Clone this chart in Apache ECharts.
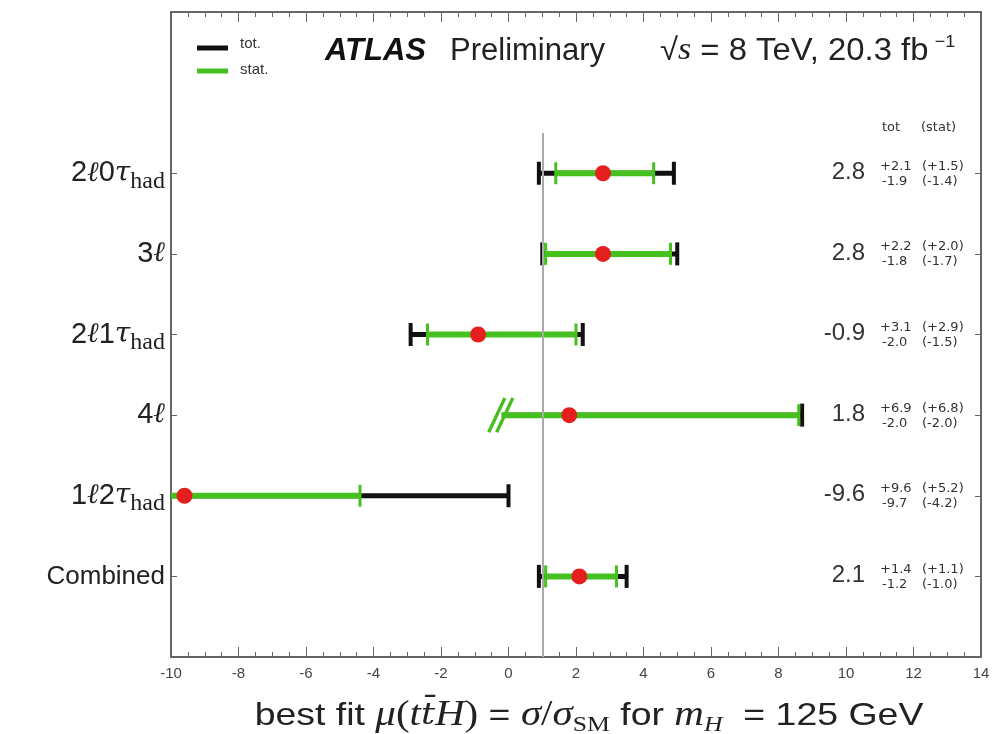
<!DOCTYPE html>
<html>
<head>
<meta charset="utf-8">
<script src="https://cdn.jsdelivr.net/npm/echarts@6/dist/echarts.min.js"></script>
<style>
html, body { margin: 0; padding: 0; background: #fff; }
#chart { width: 999px; height: 734px; }
</style>
</head>
<body>
<div id="chart"></div>
<script>
// channels, top to bottom
var categories = ['2ℓ0τ_had', '3ℓ', '2ℓ1τ_had', '4ℓ', '1ℓ2τ_had', 'Combined'];
var muValues  = [2.8, 2.8, -0.9, 1.8, -9.6, 2.1];
var totUp     = [2.1, 2.2, 3.1, 6.9, 9.6, 1.4];
var totDown   = [1.9, 1.8, 2.0, 2.0, 9.7, 1.2];
var statUp    = [1.5, 2.0, 2.9, 6.8, 5.2, 1.1];
var statDown  = [1.4, 1.7, 1.5, 2.0, 4.2, 1.0];
var brokenLow = [0, 0, 0, 1, 0, 0];   // 4l lower edge drawn with a break mark
var xTickValues = [-10, -8, -6, -4, -2, 0, 2, 4, 6, 8, 10, 12, 14];
var smMu = 1;

var GREEN = '#46c01e';
var BLACK = '#111111';
var FRAME = '#666666';

var nRows = categories.length;
function rowY(i) { return nRows - i; }   // 6 .. 1

var totData = [], statData = [], dotData = [], textData = [];
for (var i = 0; i < nRows; i++) {
	totData.push([rowY(i), muValues[i] - totDown[i], muValues[i] + totUp[i], brokenLow[i]]);
	statData.push([rowY(i), muValues[i] - statDown[i], muValues[i] + statUp[i], brokenLow[i]]);
	dotData.push([muValues[i], rowY(i)]);
	textData.push([rowY(i), muValues[i], totUp[i], totDown[i], statUp[i], statDown[i]]);
}

// y label as rich text
function richLabel(name) {
	if (name === 'Combined') return '{c|Combined}';
	var s = '';
	var parts = name.split('_');
	var main = parts[0];
	for (var k = 0; k < main.length; k++) {
		var c = main.charAt(k);
		if (c === 'ℓ' || c === 'τ') s += '{l|' + c + '}';
		else s += '{n|' + c + '}';
	}
	if (parts[1]) s += '{s|' + parts[1] + '}';
	return s;
}
var labelByY = {};
for (var i = 0; i < nRows; i++) labelByY[rowY(i)] = richLabel(categories[i]);
var rowValues = [];
for (var i = 0; i < nRows; i++) rowValues.push(rowY(i));

function fmt(v) { return v.toFixed(1); }

function barRenderer(color, width, capH, capW) {
	return function (params, api) {
		var y = api.value(0), lo = api.value(1), hi = api.value(2), brk = api.value(3);
		var p1 = api.coord([lo, y]);
		var p2 = api.coord([hi, y]);
		var st = { stroke: color, lineWidth: width };
		var cst = { stroke: color, lineWidth: capW };
		var children = [
			{ type: 'line', shape: { x1: p1[0], y1: p1[1], x2: p2[0], y2: p2[1] }, style: st },
			{ type: 'line', shape: { x1: p2[0], y1: p2[1] - capH / 2, x2: p2[0], y2: p2[1] + capH / 2 }, style: cst }
		];
		if (brk) {
			var bs = { stroke: GREEN, lineWidth: 3 };
			children.push({ type: 'line', shape: { x1: p1[0] - 13, y1: p1[1] + 17, x2: p1[0] + 3, y2: p1[1] - 17 }, style: bs });
			children.push({ type: 'line', shape: { x1: p1[0] - 5, y1: p1[1] + 17, x2: p1[0] + 11, y2: p1[1] - 17 }, style: bs });
		} else {
			children.push({ type: 'line', shape: { x1: p1[0], y1: p1[1] - capH / 2, x2: p1[0], y2: p1[1] + capH / 2 }, style: cst });
		}
		return { type: 'group', children: children };
	};
}

function frameAxis(extra) {
	var a = {
		type: 'value',
		axisLine: { show: true, onZero: false, lineStyle: { color: FRAME, width: 2 } },
		splitLine: { show: false }
	};
	for (var k in extra) a[k] = extra[k];
	return a;
}

var chart = echarts.init(document.getElementById('chart'));
var option = {
	animation: false,
	backgroundColor: '#ffffff',
	grid: { left: 171, right: 18, top: 12, bottom: 77, containLabel: false, outerBoundsMode: 'none' },
	xAxis: [frameAxis({
		position: 'bottom', min: -10, max: 14, interval: 2,
		axisTick: { show: true, inside: true, length: 10, lineStyle: { color: FRAME, width: 1 } },
		minorTick: { show: true, splitNumber: 4, length: 5, lineStyle: { color: FRAME, width: 1 } },
		axisLabel: {
			margin: 9, fontFamily: 'Liberation Sans', fontSize: 15, color: '#444',
			customValues: xTickValues,
			formatter: function (v) { return String(v); }
		}
	}), frameAxis({
		position: 'top', min: -10, max: 14, interval: 2,
		axisTick: { show: true, inside: true, length: 10, lineStyle: { color: FRAME, width: 1 } },
		minorTick: { show: true, splitNumber: 4, length: 5, lineStyle: { color: FRAME, width: 1 } },
		axisLabel: { show: false }
	})],
	yAxis: [frameAxis({
		position: 'left', min: 0, max: 8,
		axisTick: { show: true, inside: true, length: 6, customValues: rowValues, lineStyle: { color: FRAME } },
		axisLabel: {
			customValues: rowValues,
			margin: 6,
			formatter: function (v) { return labelByY[v] || ''; },
			rich: {
				c: { fontFamily: 'Liberation Sans', fontSize: 26, color: '#222' },
				n: { fontFamily: 'Liberation Sans', fontSize: 29, color: '#222' },
				l: { fontFamily: 'DejaVu Serif', fontStyle: 'italic', fontSize: 28, color: '#222' },
				s: { fontFamily: 'Liberation Serif', fontSize: 24, color: '#222', padding: [16, 0, 0, 0] }
			}
		}
	}), frameAxis({
		position: 'right', min: 0, max: 8,
		axisTick: { show: true, inside: true, length: 6, customValues: rowValues, lineStyle: { color: FRAME } },
		axisLabel: { show: false }
	})],
	graphic: [
		{ type: 'line', shape: { x1: 197, y1: 48, x2: 228, y2: 48 }, style: { stroke: BLACK, lineWidth: 5 } },
		{ type: 'line', shape: { x1: 197, y1: 71, x2: 228, y2: 71 }, style: { stroke: GREEN, lineWidth: 5 } },
		{ type: 'text', x: 240, y: 44, style: { text: 'tot.', font: '15px "Liberation Sans"', fill: '#333', verticalAlign: 'middle' } },
		{ type: 'text', x: 240, y: 70, style: { text: 'stat.', font: '15px "Liberation Sans"', fill: '#333', verticalAlign: 'middle' } },
		{ type: 'text', x: 325, y: 51, style: { text: 'ATLAS', font: 'italic bold 31px "Liberation Sans"', fill: '#111', verticalAlign: 'middle' } },
		{ type: 'text', x: 450, y: 51, style: { text: 'Preliminary', font: '31px "Liberation Sans"', fill: '#222', verticalAlign: 'middle' } },
		{
			type: 'text', x: 660, y: 51, scaleX: 1.06,
			style: {
				text: '{r|√}{i|s}{r| = 8 TeV, 20.3 fb}{sup|−1}',
				verticalAlign: 'middle',
				rich: {
					r: { fontFamily: 'Liberation Sans', fontSize: 31, fill: '#222' },
					i: { fontFamily: 'Liberation Serif', fontStyle: 'italic', fontSize: 32, fill: '#222' },
					sup: { fontFamily: 'Liberation Sans', fontSize: 17, fill: '#222', padding: [0, 0, 18, 6] }
				}
			}
		},
		{ type: 'text', x: 882, y: 128, style: { text: 'tot', font: '13px "DejaVu Sans"', fill: '#333', verticalAlign: 'middle' } },
		{ type: 'text', x: 921, y: 128, style: { text: '(stat)', font: '13px "DejaVu Sans"', fill: '#333', verticalAlign: 'middle' } },
		{
			type: 'text', x: 589, y: 716, scaleX: 1.17,
			style: {
				text: '{r|best fit }{i|μ}{p|(}{i|t}{b|t\u0304}{i|H}{p|)}{r| = }{i|σ}{p|/}{i|σ}{sub|SM}{r| for }{i|m}{isub|H}{r|  = 125 GeV}',
				align: 'center', verticalAlign: 'middle',
				rich: {
					r: { fontFamily: 'Liberation Sans', fontSize: 32, fill: '#222' },
					i: { fontFamily: 'Liberation Serif', fontStyle: 'italic', fontSize: 35, fill: '#222' },
					b: { fontFamily: 'DejaVu Serif', fontStyle: 'italic', fontSize: 30, fill: '#222' },
					p: { fontFamily: 'Liberation Serif', fontSize: 35, fill: '#222' },
					sub: { fontFamily: 'Liberation Serif', fontSize: 22, fill: '#222', padding: [18, 0, 0, 0] },
					isub: { fontFamily: 'Liberation Serif', fontStyle: 'italic', fontSize: 22, fill: '#222', padding: [18, 0, 0, 0] }
				}
			}
		}
	],
	series: [{
		type: 'line', data: [], silent: true, z: 1,
		markLine: {
			silent: true, symbol: 'none', label: { show: false },
			lineStyle: { color: '#aaaaaa', width: 2, type: 'solid' },
			data: [[{ coord: [smMu, 0] }, { coord: [smMu, 6.5] }]]
		}
	}, {
		type: 'custom', name: 'tot.', z: 3, clip: true,
		renderItem: barRenderer(BLACK, 5, 23, 4),
		encode: { x: [1, 2], y: 0 },
		data: totData
	}, {
		type: 'custom', name: 'stat.', z: 4, clip: true,
		renderItem: barRenderer(GREEN, 6, 22, 3),
		encode: { x: [1, 2], y: 0 },
		data: statData
	}, {
		type: 'scatter', z: 5, symbol: 'circle', symbolSize: 16,
		itemStyle: { color: '#e51e1e', opacity: 1 },
		data: dotData
	}, {
		type: 'custom', z: 6, clip: false,
		encode: { y: 0 },
		renderItem: function (params, api) {
			var y = api.value(0);
			var p = api.coord([14, y]);
			var xr = p[0] - 116, cy = p[1];
			var small = '13px "DejaVu Sans"';
			return {
				type: 'group',
				children: [
					{ type: 'text', style: { x: xr, y: cy - 1, text: fmt(api.value(1)), font: '24px "Liberation Sans"', fill: '#333', align: 'right', verticalAlign: 'middle' } },
					{ type: 'text', style: { x: xr + 15, y: cy - 7, text: '+' + fmt(api.value(2)), font: small, fill: '#333', align: 'left', verticalAlign: 'middle' } },
					{ type: 'text', style: { x: xr + 17, y: cy + 8, text: '-' + fmt(api.value(3)), font: small, fill: '#333', align: 'left', verticalAlign: 'middle' } },
					{ type: 'text', style: { x: xr + 57, y: cy - 7, text: '(+' + fmt(api.value(4)) + ')', font: small, fill: '#333', align: 'left', verticalAlign: 'middle' } },
					{ type: 'text', style: { x: xr + 57, y: cy + 8, text: '(-' + fmt(api.value(5)) + ')', font: small, fill: '#333', align: 'left', verticalAlign: 'middle' } }
				]
			};
		},
		data: textData
	}]
};
chart.setOption(option);
</script>
</body>
</html>
